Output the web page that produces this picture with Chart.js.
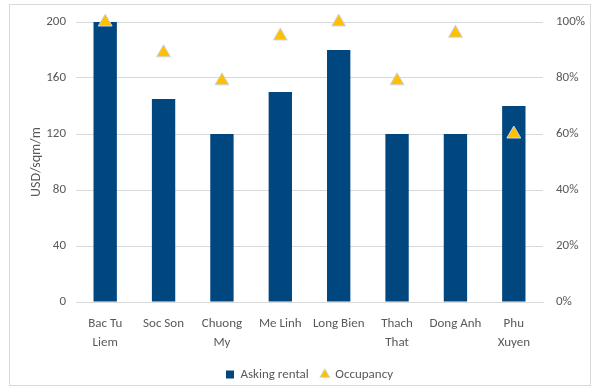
<!DOCTYPE html>
<html>
<head>
<meta charset="utf-8">
<script src="https://cdn.jsdelivr.net/npm/chart.js@4/dist/chart.umd.min.js"></script>
<style>
  html, body { margin: 0; padding: 0; background: #fff; }
  #wrap { width: 595px; height: 391px; position: relative; }
</style>
</head>
<body>
<div id="wrap"><canvas id="c" width="595" height="391"></canvas></div>
<script>
const districts = [['Bac Tu', 'Liem'], 'Soc Son', ['Chuong', 'My'], 'Me Linh', 'Long Bien', ['Thach', 'That'], 'Dong Anh', ['Phu', 'Xuyen']];
const askingRental = [200, 145, 120, 150, 180, 120, 120, 140];
const occupancy = [100, 89, 79, 95, 100, 79, 96, 60];

const fontFamily = "Carlito, Lato, sans-serif";
const textColor = '#595959';

const frame = {
  id: 'frame',
  beforeDraw(chart) {
    const ctx = chart.ctx;
    ctx.save();
    ctx.fillStyle = '#fff';
    ctx.fillRect(0, 0, chart.width, chart.height);
    ctx.strokeStyle = '#d9d9d9';
    ctx.lineWidth = 1;
    ctx.strokeRect(9.5, 4.5, 581, 381);
    ctx.restore();
  }
};

new Chart(document.getElementById('c'), {
  data: {
    labels: districts,
    datasets: [
      {
        type: 'scatter',
        label: 'Occupancy',
        data: occupancy,
        yAxisID: 'y2',
        pointStyle: 'triangle',
        pointRadius: 8,
        backgroundColor: '#ffc000',
        borderColor: '#c9d6e8',
        borderWidth: 1,
        clip: false,
        order: 0
      },
      {
        type: 'bar',
        label: 'Asking rental',
        data: askingRental,
        yAxisID: 'y',
        backgroundColor: '#00467f',
        barPercentage: 0.4,
        categoryPercentage: 1,
        order: 1
      }
    ]
  },
  options: {
    responsive: false,
    animation: false,
    layout: { padding: { left: 24, right: 0, top: 22, bottom: 0 } },
    scales: {
      x: {
        type: 'category',
        offset: true,
        grid: { display: false },
        border: { color: '#d9d9d9' },
        ticks: { color: textColor, font: { family: fontFamily, size: 13, lineHeight: 1.4 }, maxRotation: 0, autoSkip: false, padding: 5 },
        afterFit(scale) { scale.height = 54; }
      },
      y: {
        position: 'left',
        min: 0, max: 200,
        ticks: { stepSize: 40, color: textColor, font: { family: fontFamily, size: 13 }, padding: 10 },
        grid: { color: '#d9d9d9', drawTicks: false },
        border: { display: false },
        title: { display: true, text: 'USD/sqm/m', color: textColor, font: { family: fontFamily, size: 14 }, padding: 4 },
        afterFit(scale) { scale.width = 52; }
      },
      y2: {
        position: 'right',
        min: 0, max: 100,
        ticks: { stepSize: 20, color: textColor, font: { family: fontFamily, size: 13 }, padding: 13, callback: v => v + '%' },
        grid: { display: false, drawTicks: false },
        border: { display: false },
        afterFit(scale) { scale.width = 52; }
      }
    },
    plugins: {
      legend: {
        position: 'bottom',
        reverse: true,
        labels: {
          color: textColor,
          font: { family: fontFamily, size: 13 },
          usePointStyle: true,
          boxWidth: 8,
          boxHeight: 8,
          padding: 12,
          generateLabels(chart) {
            const items = Chart.defaults.plugins.legend.labels.generateLabels(chart);
            items.forEach(it => {
              it.pointStyle = it.text === 'Asking rental' ? 'rect' : 'triangle';
            });
            return items;
          }
        }
      },
      tooltip: { enabled: false }
    }
  },
  plugins: [frame]
});
</script>
</body>
</html>
